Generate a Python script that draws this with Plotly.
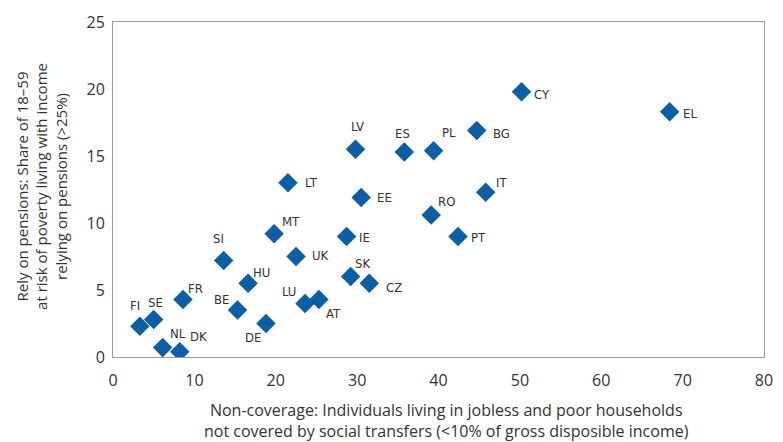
import plotly.graph_objects as go

countries = ["FI", "SE", "NL", "DK", "FR", "BE", "SI", "HU", "DE", "MT", "LT", "UK", "LU", "AT",
             "IE", "SK", "CZ", "LV", "EE", "ES", "PL", "BG", "RO", "IT", "PT", "CY", "EL"]
non_coverage = [3.3, 5.0, 6.1, 8.2, 8.6, 15.3, 13.6, 16.6, 18.8, 19.8, 21.5, 22.5, 23.6, 25.3,
                28.7, 29.2, 31.5, 29.8, 30.5, 35.8, 39.4, 44.7, 39.1, 45.8, 42.4, 50.2, 68.4]
rely_pensions = [2.3, 2.8, 0.7, 0.4, 4.3, 3.5, 7.2, 5.5, 2.5, 9.2, 13.0, 7.5, 4.0, 4.3,
                 9.0, 6.0, 5.5, 15.5, 11.9, 15.3, 15.4, 16.9, 10.6, 12.3, 9.0, 19.8, 18.3]

# label offsets in pixels (dx, dy) relative to marker, screen coords (dy positive = down)
label_offsets = {
    "FI": (-5, -21), "SE": (2, -17), "NL": (15, -14), "DK": (19, -15), "FR": (13, -11),
    "BE": (-16, -11), "SI": (-5, -22), "HU": (13, -11), "DE": (-13, 14), "MT": (17, -12),
    "LT": (24, 0), "UK": (24, -1), "LU": (-16, -12), "AT": (15, 14), "IE": (18, 1),
    "SK": (12, -13), "CZ": (25, 4), "LV": (2, -23), "EE": (23, 0), "ES": (-2, -18),
    "PL": (15, -18), "BG": (25, 3), "RO": (15, -13), "IT": (16, -10), "PT": (20, 1),
    "CY": (20, 3), "EL": (20, 2),
}

label_font = dict(family="Liberation Sans Narrow, DejaVu Sans Condensed, Arial Narrow, sans-serif",
                  size=13, color="#333333")

fig = go.Figure()
fig.add_trace(go.Scatter(
    x=non_coverage, y=rely_pensions, mode="markers",
    marker=dict(symbol="diamond", size=15, color="#0a5fa6"),
    hoverinfo="text", text=countries, showlegend=False,
))

annotations = []
for c, xv, yv in zip(countries, non_coverage, rely_pensions):
    dx, dy = label_offsets[c]
    annotations.append(dict(x=xv, y=yv, xref="x", yref="y", text=c, showarrow=False,
                            xshift=dx, yshift=-dy, font=label_font))

annotations.append(dict(
    x=0.512, y=-0.191, xref="paper", yref="paper", xanchor="center", yanchor="middle",
    text="Non-coverage: Individuals living in jobless and poor households<br>"
         "not covered by social transfers (<10% of gross disposible income)",
    showarrow=False, font=dict(family="Open Sans, DejaVu Sans, sans-serif", size=16, color="#333333")))
annotations.append(dict(
    x=-0.111, y=0.51, xref="paper", yref="paper", xanchor="center", yanchor="middle",
    text="Rely on pensions: Share of 18–59<br>at risk of poverty living with income<br>"
         "relying on pensions (>25%)",
    textangle=-90, showarrow=False,
    font=dict(family="Open Sans, DejaVu Sans, sans-serif", size=15, color="#333333")))

tick_font = dict(family="Open Sans, DejaVu Sans, sans-serif", size=16, color="#333333")
fig.update_layout(
    width=783, height=442,
    margin=dict(l=113, r=10, t=22, b=85),
    plot_bgcolor="white", paper_bgcolor="white",
    annotations=annotations,
    xaxis=dict(range=[0, 80], dtick=10, showgrid=False, zeroline=False,
               showline=True, linecolor="#999999", linewidth=1, mirror=True,
               ticks="", tickfont=tick_font, ticklabelstandoff=9),
    yaxis=dict(range=[0, 25], dtick=5, showgrid=False, zeroline=False,
               showline=True, linecolor="#999999", linewidth=1, mirror=True,
               ticks="", tickfont=tick_font, ticklabelstandoff=4),
)

fig.write_html("out.html", config={"displayModeBar": False},
               post_script="document.body.style.margin='0';document.body.style.overflow='hidden';")
